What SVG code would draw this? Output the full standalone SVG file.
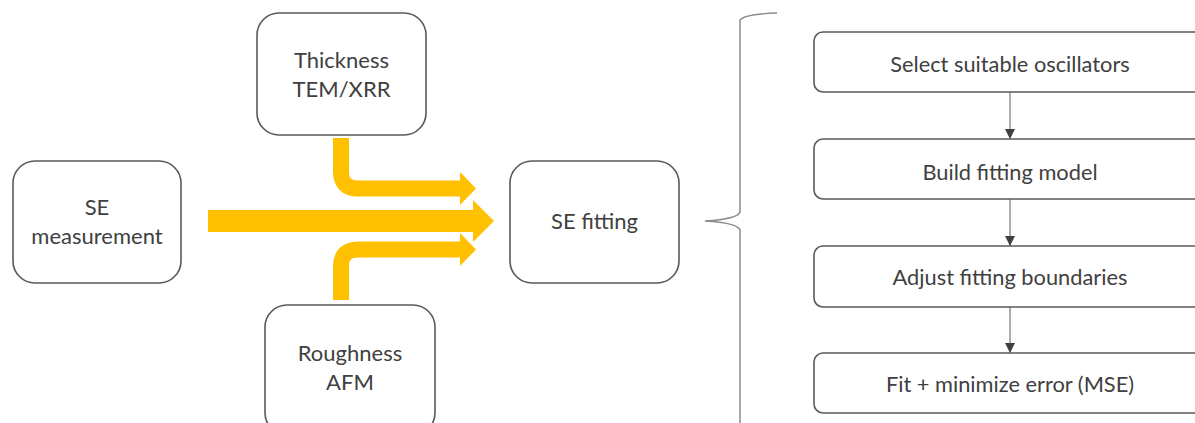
<svg xmlns="http://www.w3.org/2000/svg" width="1195" height="423" viewBox="0 0 1195 423">
<style>
.box{fill:#fff;stroke:#595959;stroke-width:1.6}
.t{font-family:Lato,"Noto Sans","Liberation Sans",sans-serif;font-size:22px;fill:#404040;text-anchor:middle}
.ts{font-family:Lato,"Noto Sans","Liberation Sans",sans-serif;font-size:21.8px;fill:#404040;text-anchor:middle}
.y{fill:none;stroke:#FFC000}
.yh{fill:#FFC000}
.c{stroke:#808080;stroke-width:1.3;fill:none}
.brace{stroke:#8c8c8c;stroke-width:1.5;fill:none}
</style>
<defs>
<marker id="ah" markerWidth="10" markerHeight="10" refX="10" refY="5" orient="auto" markerUnits="userSpaceOnUse">
<path d="M0,0 L10,5 L0,10 Z" fill="#404040"/>
</marker>
</defs>
<g id="connectors">
<path class="y" stroke-width="22" d="M208,221 H474"/>
<polygon class="yh" points="473,200 494,221 473,242"/>
<path class="y" stroke-width="16" d="M341,138 V171.5 Q341,188.5 358,188.5 H461"/>
<polygon class="yh" points="460,172 476,188.5 460,205"/>
<path class="y" stroke-width="16" d="M341,300 V266.5 Q341,249.5 358,249.5 H461"/>
<polygon class="yh" points="460,233 476,249.5 460,266"/>
<path class="c" d="M1010,92 V139" marker-end="url(#ah)"/>
<path class="c" d="M1010,199 V246" marker-end="url(#ah)"/>
<path class="c" d="M1010,307 V353" marker-end="url(#ah)"/>
<path class="brace" d="M777,13 Q745,14 740,20 V212 Q738,219 705,221 Q738,223 740,230 V423"/>
</g>
<g id="se-measurement">
<rect class="box" x="13" y="161" width="168" height="122" rx="22"/>
<text class="t" x="97" y="215">SE</text>
<text class="t" x="97" y="244">measurement</text>
</g>
<g id="thickness">
<rect class="box" x="257" y="13" width="169" height="122" rx="22"/>
<text class="t" x="341.5" y="68">Thickness</text>
<text class="t" x="341.5" y="97">TEM/XRR</text>
</g>
<g id="roughness">
<rect class="box" x="265" y="305" width="170" height="130" rx="22"/>
<text class="t" x="350" y="361">Roughness</text>
<text class="t" x="350" y="390">AFM</text>
</g>
<g id="se-fitting">
<rect class="box" x="510" y="161" width="169" height="122" rx="22"/>
<text class="t" x="594.5" y="229">SE fitting</text>
</g>
<g id="step1">
<rect class="box" x="814" y="32" width="392" height="60" rx="9"/>
<text class="ts" x="1010" y="72">Select suitable oscillators</text>
</g>
<g id="step2">
<rect class="box" x="814" y="139" width="392" height="60" rx="9"/>
<text class="ts" x="1010" y="180">Build fitting model</text>
</g>
<g id="step3">
<rect class="box" x="814" y="246" width="392" height="61" rx="9"/>
<text class="ts" x="1010" y="285">Adjust fitting boundaries</text>
</g>
<g id="step4">
<rect class="box" x="814" y="353" width="392" height="60" rx="9"/>
<text class="ts" x="1010" y="392">Fit + minimize error (MSE)</text>
</g>
</svg>
